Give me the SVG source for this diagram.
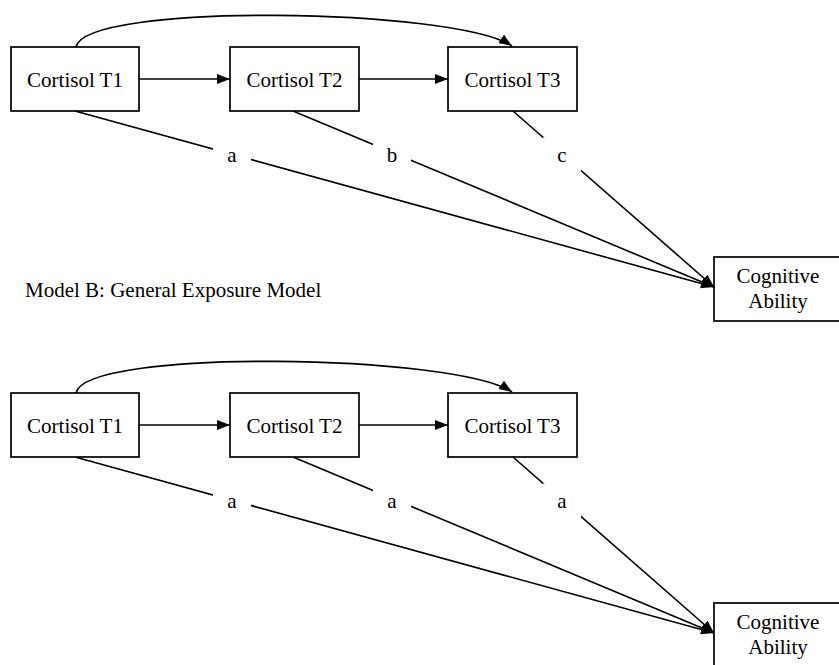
<svg xmlns="http://www.w3.org/2000/svg" width="839" height="665" viewBox="0 0 839 665">
<defs>
<marker id="arr" markerUnits="userSpaceOnUse" markerWidth="14" markerHeight="11" refX="13" refY="5" orient="auto">
<path d="M0,0 L13,5 L0,10 z" fill="#000"/>
</marker>
<style>
.box{fill:#fff;stroke:#000;stroke-width:1.7}
.e{fill:none;stroke:#000;stroke-width:1.6;marker-end:url(#arr)}
.lb{fill:#fff;stroke:none}
</style>
</defs>
<rect width="839" height="665" fill="#fff"/>

<g id="modelA" font-family="'Liberation Serif', 'Times New Roman', serif" font-size="21" fill="#000" text-anchor="middle">
<g id="connectorsA">
<path class="e" d="M76,47 C85,2 455,8 512,46"/>
<line class="e" x1="139" y1="79" x2="230" y2="79"/>
<line class="e" x1="359" y1="79" x2="448" y2="79"/>
<line class="e" x1="75" y1="111" x2="714" y2="287"/>
<line class="e" x1="293" y1="111" x2="714" y2="287"/>
<line class="e" x1="513" y1="111" x2="714" y2="287"/>
<rect class="lb" x="213" y="138.5" width="38" height="35"/>
<rect class="lb" x="373" y="138.5" width="38" height="35"/>
<rect class="lb" x="543" y="137.5" width="38" height="35"/>
<text x="232" y="162">a</text>
<text x="392" y="162">b</text>
<text x="562" y="162">c</text>
</g>
<g id="A_T1"><rect class="box" x="11" y="47" width="128" height="64"/><text x="75" y="86.5">Cortisol T1</text></g>
<g id="A_T2"><rect class="box" x="230" y="47" width="129" height="64"/><text x="294.5" y="86.5">Cortisol T2</text></g>
<g id="A_T3"><rect class="box" x="448" y="47" width="129" height="64"/><text x="512.5" y="86.5">Cortisol T3</text></g>
<g id="A_CA"><rect class="box" x="714" y="257" width="128" height="64"/><text x="778" y="283">Cognitive</text><text x="778" y="308">Ability</text></g>
</g>

<text id="titleB" x="25" y="297" font-family="'Liberation Serif', 'Times New Roman', serif" font-size="21" fill="#000">Model B: General Exposure Model</text>

<g id="modelB" transform="translate(0,346)" font-family="'Liberation Serif', 'Times New Roman', serif" font-size="21" fill="#000" text-anchor="middle">
<g id="connectorsB">
<path class="e" d="M76,47 C85,2 455,8 512,46"/>
<line class="e" x1="139" y1="79" x2="230" y2="79"/>
<line class="e" x1="359" y1="79" x2="448" y2="79"/>
<line class="e" x1="75" y1="111" x2="714" y2="287"/>
<line class="e" x1="293" y1="111" x2="714" y2="287"/>
<line class="e" x1="513" y1="111" x2="714" y2="287"/>
<rect class="lb" x="213" y="138.5" width="38" height="35"/>
<rect class="lb" x="373" y="138.5" width="38" height="35"/>
<rect class="lb" x="543" y="137.5" width="38" height="35"/>
<text x="232" y="162">a</text>
<text x="392" y="162">a</text>
<text x="562" y="162">a</text>
</g>
<g id="B_T1"><rect class="box" x="11" y="47" width="128" height="64"/><text x="75" y="86.5">Cortisol T1</text></g>
<g id="B_T2"><rect class="box" x="230" y="47" width="129" height="64"/><text x="294.5" y="86.5">Cortisol T2</text></g>
<g id="B_T3"><rect class="box" x="448" y="47" width="129" height="64"/><text x="512.5" y="86.5">Cortisol T3</text></g>
<g id="B_CA"><rect class="box" x="714" y="257" width="128" height="64"/><text x="778" y="283">Cognitive</text><text x="778" y="308">Ability</text></g>
</g>
</svg>
